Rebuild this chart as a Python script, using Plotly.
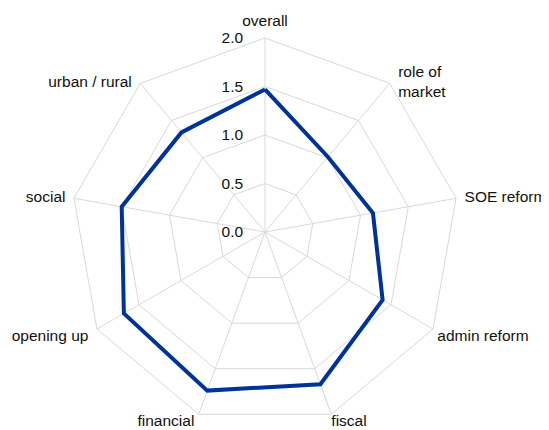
import plotly.graph_objects as go

NB = "\u00a0"
categories = ["overall", "role of<br>market", "SOE reform", "admin reform", "fiscal",
              "financial", "opening up", "social", "urban / rural"]
values = [1.47, 1.01, 1.13, 1.40, 1.67, 1.74, 1.68, 1.50, 1.34]
r_max = 2.0
tick_vals = [0.0, 0.5, 1.0, 1.5, 2.0]
tick_text = ["0.0", "0.5", "1.0", "1.5", "2.0"]

# label placement styles (one per category)
label_pos = ["top center", "middle right", "middle right", "bottom right", "bottom right",
             "bottom left", "bottom left", "middle left", "middle left"]
label_pad = [12, 12, 12, 0, 0, 0, 0, 12, 12]          # invisible marker sizes
lead_nb = [0, 0, 0, 1, 0, 0, 0, 0, 0]
trail_nb = [0, 0, 0, 0, 0, 1, 2, 0, 0]

# page body has an 8px margin, so the figure sits 8px right/down in the window
W, H = 549, 430
cx, cy, R = 257, 224, 194

fig = go.Figure()
fig.add_trace(go.Scatterpolar(
    r=values + values[:1],
    theta=categories + categories[:1],
    mode="lines",
    line=dict(color="#003399", width=4),
    showlegend=False,
))
fig.add_trace(go.Scatterpolar(
    r=[r_max] * len(categories),
    theta=categories,
    mode="markers+text",
    text=[NB * a + c + NB * b for c, a, b in zip(categories, lead_nb, trail_nb)],
    textposition=label_pos,
    marker=dict(size=label_pad, opacity=0),
    textfont=dict(size=15.5, color="#111111"),
    cliponaxis=False,
    hoverinfo="skip",
    showlegend=False,
))

grid = "#d9d9d9"
fig.update_layout(
    width=W, height=H,
    margin=dict(l=0, r=0, t=0, b=0, autoexpand=False),
    paper_bgcolor="white",
    font=dict(family="Liberation Sans, Arial, sans-serif", size=15.5, color="#111111"),
    polar=dict(
        domain=dict(x=[(cx - R) / W, (cx + R) / W],
                    y=[(H - cy - R) / H, (H - cy + R) / H]),
        bgcolor="white",
        gridshape="linear",
        angularaxis=dict(
            rotation=90, direction="clockwise",
            gridcolor=grid, linecolor=grid, linewidth=1,
            showline=True, ticks="", showticklabels=False,
        ),
        radialaxis=dict(
            range=[0, r_max], angle=90, tickangle=90,
            tickvals=tick_vals, ticktext=tick_text,
            gridcolor=grid, showline=False,
            ticks="outside", ticklen=16, tickcolor="rgba(0,0,0,0)",
            side="counterclockwise",
            tickfont=dict(size=15.5),
        ),
    ),
)
fig.write_html("out.html")
